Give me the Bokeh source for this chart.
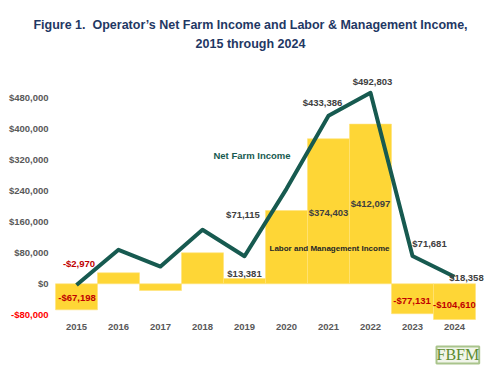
from bokeh.plotting import figure
from bokeh.models import ColumnDataSource, Range1d, Label
from bokeh.core.properties import value
from bokeh.embed import file_html
from bokeh.resources import INLINE

# ---- data ----
years = [2015, 2016, 2017, 2018, 2019, 2020, 2021, 2022, 2023, 2024]
net_farm_income = [-2970, 87700, 44600, 139400, 71115, 245000, 433386, 492803, 71681, 18358]
labor_mgmt_income = [-67198, 28400, -17300, 80000, 13381, 189000, 374403, 412097, -77131, -104610]
y_ticks = [-80000, 0, 80000, 160000, 240000, 320000, 400000, 480000]
y_tick_labels = ["-$80,000", "$0", "$80,000", "$160,000", "$240,000", "$320,000", "$400,000", "$480,000"]
x_tick_labels = ["2015", "2016", "2017", "2018", "2019", "2020", "2021", "2022", "2023", "2024"]
nfi_label_years = [2015, 2019, 2021, 2022, 2023, 2024]
lmi_label_years = [2015, 2019, 2021, 2022, 2023, 2024]
title_lines = ["Figure 1.\u00a0 Operator\u2019s Net Farm Income and Labor & Management Income,",
               "2015 through 2024"]

# ---- styles / label offsets (pixels, y down) ----
nfi_dx = [2.5, -1.5, -6, 2, 17, 12]
nfi_dy = [-21.5, -41.7, -13.4, -11, -12.5, 1]
nfi_col = ["#C00000", "#404040", "#404040", "#404040", "#404040", "#404040"]
lmi_dx = [0.5, 0, 0, 0, -0.5, 0]
lmi_dy = [-12.3, -5, 74, 79.4, -13, -20]
lmi_col = ["#C00000", "#404040", "#404040", "#404040", "#C00000", "#C00000"]
ytick_col = ["#FF0000"] + ["#595959"] * 7

FONT = "Liberation Sans"
GRAY = "#595959"
TEAL = "#175A50"
YELLOW = "#FED636"
NUM_SIZE = "9.5px"

# ---- layout (page pixels of the reference) ----
W, H = 484, 367
PAGE_OFF = 0
ZERO_Y = 283.3          # page y of value 0
PX_PER_UNIT = 31 / 80000.0
X2015 = 76.0            # page x of 2015
PX_PER_YEAR = 42.0
Y_AXIS_MIN, Y_AXIS_MAX = -92100, 560000   # plot-area limits

XMIN = years[0] - (X2015 - PAGE_OFF) / PX_PER_YEAR
XMAX = XMIN + W / PX_PER_YEAR
YMAX = (ZERO_Y - PAGE_OFF) / PX_PER_UNIT
YMIN = YMAX - H / PX_PER_UNIT

p = figure(width=W, height=H, output_backend="svg", toolbar_location=None,
           x_range=Range1d(XMIN, XMAX), y_range=Range1d(YMIN, YMAX),
           min_border=0, min_border_left=0, min_border_right=0,
           min_border_top=0, min_border_bottom=0)
p.outline_line_color = None
p.grid.visible = False
p.axis.visible = False
p.background_fill_color = "white"
p.border_fill_color = "white"

# bars (clipped at the bottom of the plot area)
bar_vals = [max(v, Y_AXIS_MIN) for v in labor_mgmt_income]
p.vbar(x=years, top=bar_vals, bottom=0, width=1.0,
       fill_color=YELLOW, line_color="#FFE27A", line_width=0.6)
# line
p.line(years, net_farm_income, line_color=TEAL, line_width=4, line_join="round")

def val_of(series, yrs):
    return [series[years.index(y)] for y in yrs]

def fmt(v):
    return ("-$" if v < 0 else "$") + f"{abs(v):,}"

common = dict(text_align="center", text_baseline="middle", text_font=value(FONT))

nfi_vals = val_of(net_farm_income, nfi_label_years)
src_nfi = ColumnDataSource(dict(x=nfi_label_years, y=nfi_vals, t=[fmt(v) for v in nfi_vals],
                                xo=nfi_dx, yo=nfi_dy, c=nfi_col))
p.text(x="x", y="y", text="t", x_offset="xo", y_offset="yo", text_color="c", source=src_nfi,
       text_font_size=NUM_SIZE, text_font_style="bold", **common)

lmi_vals = val_of(labor_mgmt_income, lmi_label_years)
src_lmi = ColumnDataSource(dict(x=lmi_label_years, y=lmi_vals, t=[fmt(v) for v in lmi_vals],
                                xo=lmi_dx, yo=lmi_dy, c=lmi_col))
p.text(x="x", y="y", text="t", x_offset="xo", y_offset="yo", text_color="c", source=src_lmi,
       text_font_size=NUM_SIZE, text_font_style="bold", **common)

# series names
p.text(x=[2019], y=[320000], text=["Net Farm Income"], x_offset=[7.5], y_offset=[-4.3],
       text_color=TEAL, text_font_size="9.5px", text_font_style="bold", **common)
p.text(x=[2021], y=[80000], text=["Labor and Management Income"], x_offset=[1], y_offset=[-4.3],
       text_color="#262626", text_font_size="8px", text_font_style="bold", **common)

# y axis tick labels
src_y = ColumnDataSource(dict(x=[years[0] - 0.5] * len(y_ticks), y=y_ticks, t=y_tick_labels, c=ytick_col))
p.text(x="x", y="y", text="t", text_color="c", source=src_y, x_offset=-7,
       text_align="right", text_baseline="middle", text_font=value(FONT),
       text_font_size=NUM_SIZE, text_font_style="bold")

# x axis tick labels
src_x = ColumnDataSource(dict(x=years, y=[Y_AXIS_MIN] * len(years), t=x_tick_labels))
p.text(x="x", y="y", text="t", source=src_x, y_offset=8, text_color=GRAY,
       text_font_size=NUM_SIZE, text_font_style="bold", **common)

# title
title_x = years[0] + (250 - X2015) / PX_PER_YEAR
p.text(x=[title_x, title_x], y=[Y_AXIS_MAX, Y_AXIS_MAX], text=title_lines,
       y_offset=[-42.3, -23.3], text_color="#1F3864", text_font_size="12.5px",
       text_font_style="bold", **common)

# FBFM logo
p.add_layout(Label(x=years[-1] + (436 - 454) / PX_PER_YEAR, y=Y_AXIS_MIN, y_offset=-44,
                   text="FBFM", text_align="left", text_baseline="bottom", text_color="#5E8C31",
                   text_font="Liberation Serif", text_font_size="16px",
                   background_fill_color="#F1F5EA", border_line_color="#A9C48C", border_line_width=2))

open("out.html", "w").write(file_html(p, INLINE))
